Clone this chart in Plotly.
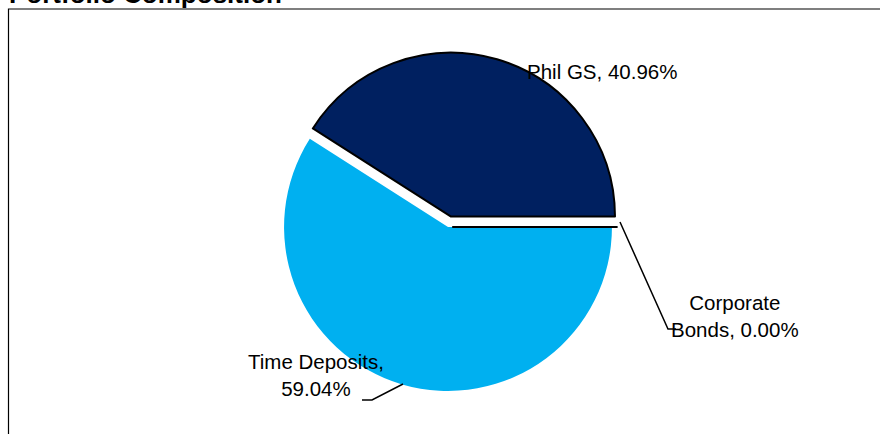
import plotly.graph_objects as go

# ---- data ----
categories = ["Time Deposits", "Phil GS", "Corporate Bonds"]
values = [59.04, 40.96, 0.00]
label_texts = ["Time Deposits,<br>59.04%", "Phil GS, 40.96%", "Corporate<br>Bonds, 0.00%"]
title_text = "Portfolio Composition"

# ---- style ----
W, H = 880, 434
colors = ["#00B0F0", "#002060", "#002060"]
line_colors = ["rgba(0,0,0,0)", "#000000", "#000000"]
line_widths = [0, 2, 2]
pulls = [0, 0.066, 0.03]
FONT = "Liberation Sans, Arial, sans-serif"


def px(x):
    return x / W


def py(y):
    return 1 - y / H


fig = go.Figure()
fig.add_trace(go.Pie(
    labels=categories,
    values=values,
    sort=False,
    direction="clockwise",
    rotation=90,
    pull=pulls,
    textinfo="none",
    hoverinfo="label+percent",
    marker=dict(colors=colors, line=dict(color=line_colors, width=line_widths)),
    domain=dict(x=[0.3105, 0.7077], y=[0.0742, 0.8797]),
    showlegend=False,
))

# label positions (pixel centres) and leader lines
label_pos = [(316, 375), (602, 72), (735, 316)]
for txt, (lx, ly) in zip(label_texts, label_pos):
    fig.add_annotation(x=px(lx), y=py(ly), xref="paper", yref="paper",
                       text=txt, showarrow=False, xanchor="center", yanchor="middle",
                       align="center", font=dict(family=FONT, size=20.5, color="#000000"))

leaders = [
    [(403, 384), (372, 400), (362, 400)],
    [(620, 222), (668, 329), (676, 329)],
]
for pts in leaders:
    path = "M " + " L ".join(f"{px(x)},{py(y)}" for x, y in pts)
    fig.add_shape(type="path", path=path, xref="paper", yref="paper",
                  line=dict(color="#000000", width=1.5))

# plot-area border (top & left visible)
fig.add_shape(type="rect", xref="paper", yref="paper",
              x0=px(8.5), x1=px(W + 10), y0=py(9), y1=py(H + 10),
              line=dict(color="#000000", width=1.2), fillcolor="rgba(0,0,0,0)")

# title, mostly cut off at the top
fig.add_annotation(x=px(7), y=py(-5.5), xref="paper", yref="paper", text=f"<b>{title_text}</b>",
                   showarrow=False, xanchor="left", yanchor="middle",
                   font=dict(family=FONT, size=26, color="#000000"))

fig.update_layout(
    width=W, height=H,
    margin=dict(l=0, r=0, t=0, b=0),
    paper_bgcolor="#FFFFFF",
    plot_bgcolor="#FFFFFF",
)

fig.write_html("out.html", config={"displayModeBar": False},
               post_script="document.body.style.margin='0';")
